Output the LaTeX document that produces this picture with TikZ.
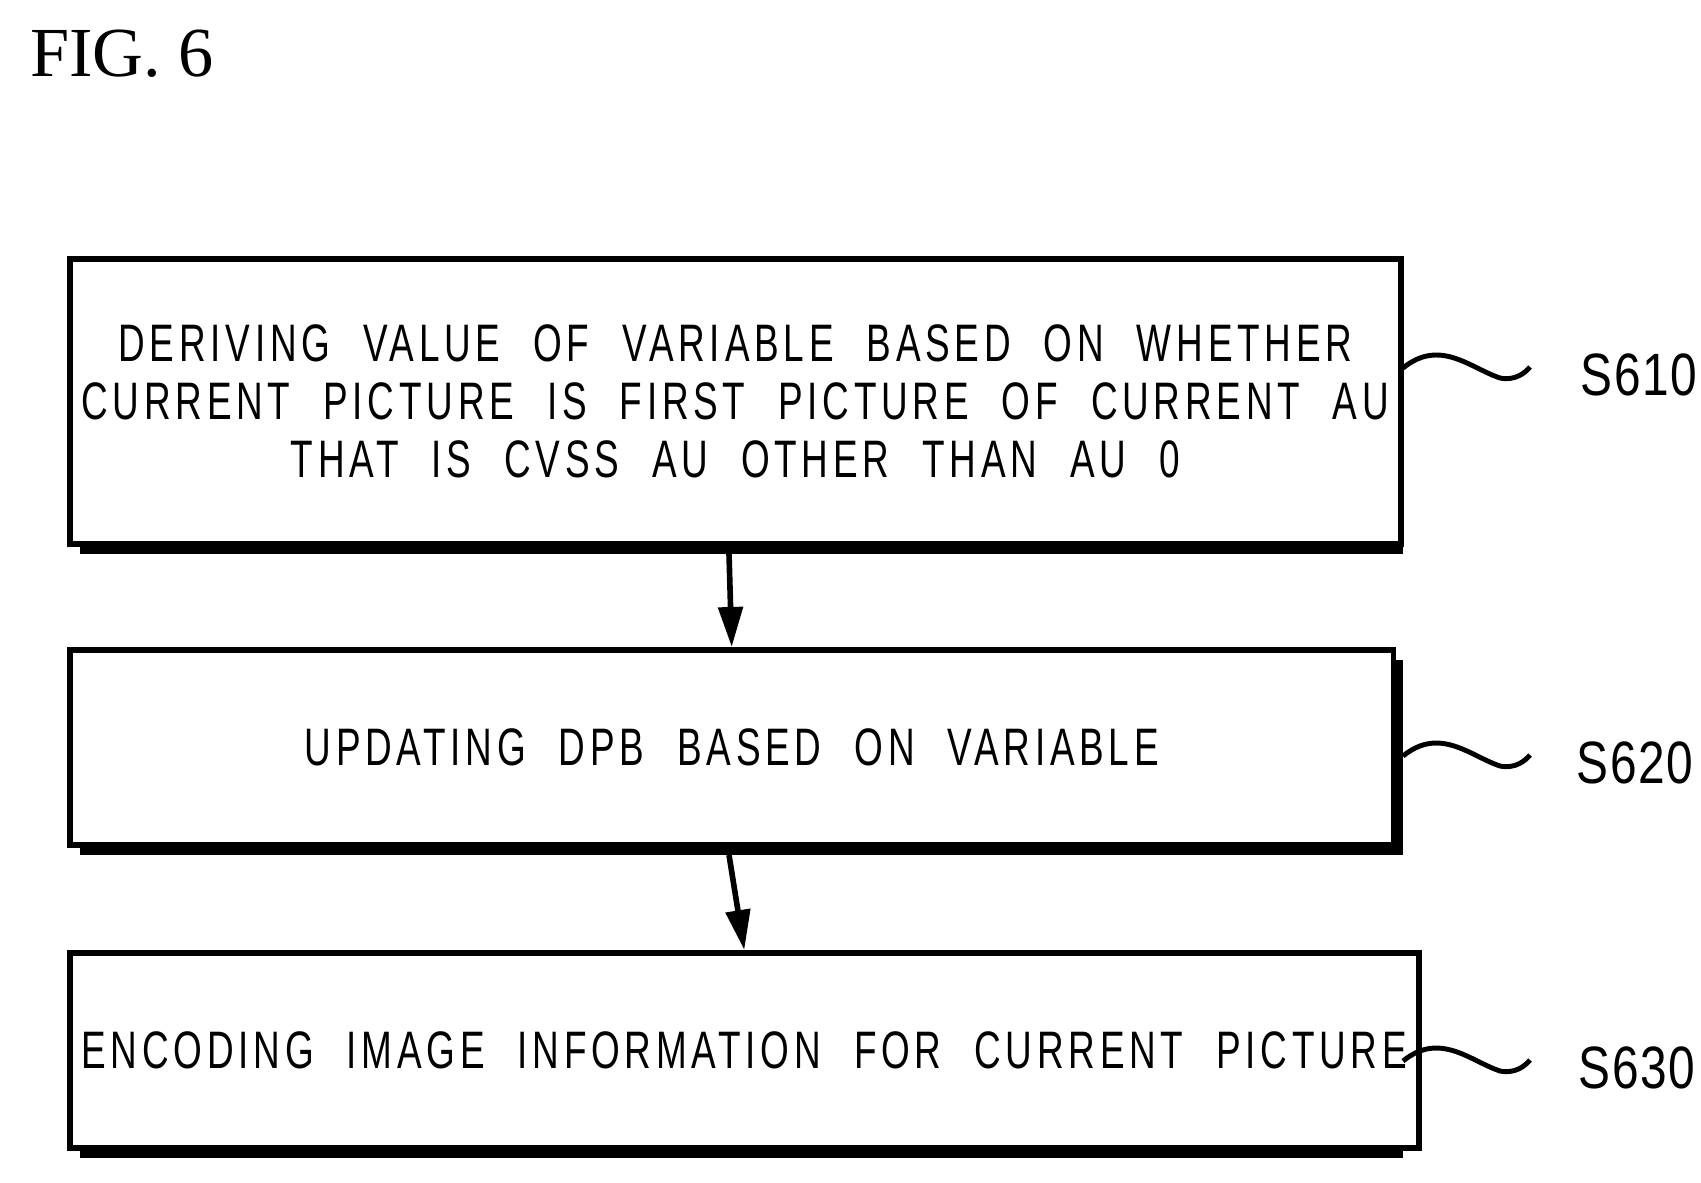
\documentclass[tikz,border=0pt]{standalone}
\usepackage{fontspec}
\setmainfont{Liberation Serif}
\newfontfamily\boxfont[LetterSpace=9,FakeStretch=0.7,WordSpace=2.2]{Liberation Sans}
\newfontfamily\tagfont[LetterSpace=3,FakeStretch=0.8]{Liberation Sans}
\usetikzlibrary{positioning,arrows.meta}
\tikzset{
  stepbox/.style={draw,line width=1.6pt,fill=white,minimum width=13.23cm,align=center,font=\boxfont\fontsize{15}{16.5}\selectfont},
  shade/.style={fill=black},
  flow/.style={-{Triangle[length=4mm,width=2.4mm]},line width=1.6pt},
  tag/.style={font=\tagfont\fontsize{17}{20}\selectfont}
}
\begin{document}
\begin{tikzpicture}[x=0.01cm,y=-0.01cm]
  \useasboundingbox (0,0) rectangle (1701,1182);
  \node[anchor=north west,font=\fontsize{20}{24}\selectfont] (fig) at (18,18) {FIG. 6};

  % shadows
  \fill[shade] (80,269) rectangle (1403,554);
  \fill[shade] (80,660) rectangle (1403,855);
  \fill[shade] (80,963) rectangle (1403,1158);

  \node[stepbox,minimum height=2.85cm,anchor=north west] (s610) at (67,256)
    {DERIVING VALUE OF VARIABLE BASED ON WHETHER\\CURRENT PICTURE IS FIRST PICTURE OF CURRENT AU\\THAT IS CVSS AU OTHER THAN AU 0};
  \node[stepbox,minimum height=1.95cm,anchor=north west] (s620) at (67,647)
    {UPDATING DPB BASED ON VARIABLE};
  \node[stepbox,minimum height=1.95cm,anchor=north west] (s630) at (67,950)
    {ENCODING IMAGE INFORMATION FOR CURRENT PICTURE};

  \coordinate (a1) at (729,554);
  \coordinate (a2) at (729,855);
  \draw[flow] (a1) -- (s620.north);
  \draw[flow] (a2) -- (s630.north);

  % step labels
  \node[tag,anchor=west] (t610) at (1568,375) {S610};
  \node[tag,anchor=west] (t620) at (1564,763) {S620};
  \node[tag,anchor=west] (t630) at (1566,1068) {S630};

  \foreach \y/\t in {363/t610,751/t620,1056/t630}
    \draw[line width=1.4pt] (1403,\y+5) .. controls (1440,\y-25) and (1470,\y+5) .. (1500,\y+15)
      .. controls (1515,\y+18) and (1525,\y+10) .. (1530,\y+4);
\end{tikzpicture}
\end{document}
